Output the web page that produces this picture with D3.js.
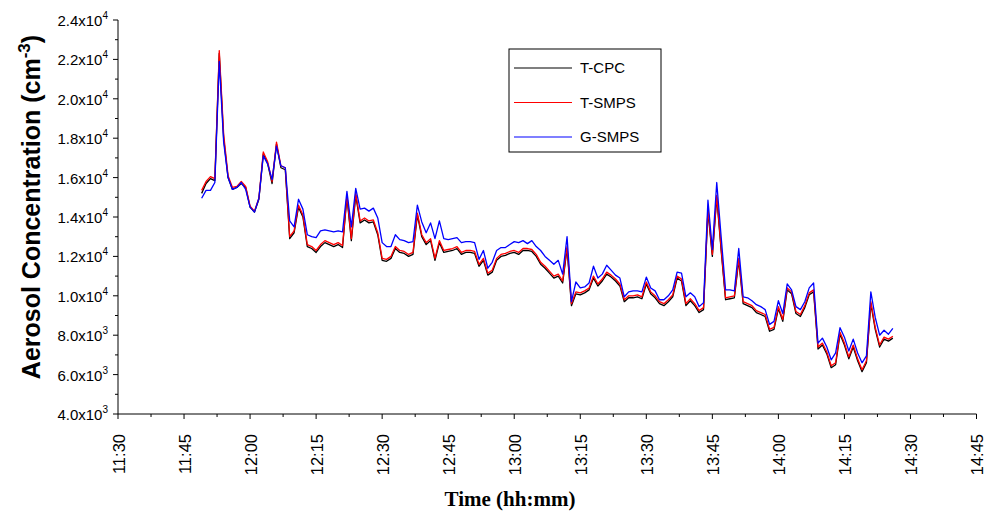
<!DOCTYPE html>
<html>
<head>
<meta charset="utf-8">
<script src="https://cdn.jsdelivr.net/npm/d3@7"></script>
<style>
body { margin: 0; background: #fff; }
svg { display: block; font-family: Arial, "Liberation Sans", sans-serif; }
</style>
</head>
<body>
<div id="chart"></div>
<script>
// one sample per minute, first sample at 11:49
var startTime = "11:49";

var tCPC = [15200, 15700, 15950, 15850, 22300, 18000, 16000, 15400, 15500, 15700,
  15500, 14500, 14250, 14900, 17200, 16700, 15700, 17700, 16500, 16400,
  12900, 13200, 14500, 14000, 12500, 12400, 12200, 12500, 12700, 12600,
  12500, 12600, 12450, 15000, 12800, 15100, 13700, 13850, 13700, 13750,
  13100, 11800, 11750, 11900, 12400, 12200, 12150, 12000, 12100, 14100,
  13000, 12600, 12800, 11800, 12700, 12200, 12250, 12300, 12400, 12100,
  12200, 12200, 12150, 11500, 11800, 11050, 11200, 11800, 12000, 12050,
  12150, 12200, 12100, 12300, 12300, 12250, 12000, 11600, 11400, 11150,
  10900, 11000, 10650, 12400, 9500, 10100, 10050, 10150, 10300, 10900,
  10500, 10750, 11100, 10950, 10750, 10500, 9700, 9900, 9900, 9950,
  9850, 10600, 10100, 9900, 9600, 9500, 9700, 9950, 10900, 10750,
  9500, 9750, 9500, 9150, 9300, 14300, 12000, 15000, 12300, 9800,
  9850, 9900, 11800, 9600, 9500, 9400, 9150, 9050, 8950, 8200,
  8300, 9350, 8700, 10300, 10100, 9100, 8950, 9400, 10050, 10200,
  7300, 7500, 7050, 6350, 6500, 8050, 7500, 6800, 7400, 6700,
  6150, 6600, 9600, 8300, 7400, 7800, 7700, 7850];

var tSMPS = [15350, 15800, 16050, 15950, 22450, 18200, 16100, 15500, 15550, 15800,
  15550, 14550, 14300, 14950, 17300, 16800, 15800, 17800, 16600, 16500,
  13000, 13300, 14600, 14100, 12600, 12500, 12300, 12600, 12800, 12700,
  12600, 12700, 12550, 15100, 12900, 15200, 13800, 13950, 13800, 13850,
  13200, 11900, 11850, 12000, 12500, 12300, 12250, 12100, 12200, 14200,
  13100, 12700, 12900, 11900, 12800, 12300, 12350, 12400, 12500, 12200,
  12300, 12300, 12250, 11600, 11900, 11150, 11300, 11900, 12100, 12150,
  12250, 12300, 12200, 12400, 12400, 12350, 12100, 11700, 11500, 11250,
  11000, 11100, 10750, 12500, 9600, 10200, 10150, 10250, 10400, 11000,
  10600, 10850, 11200, 11050, 10850, 10600, 9800, 10000, 10000, 10050,
  9950, 10700, 10200, 10000, 9700, 9600, 9800, 10050, 11000, 10850,
  9600, 9850, 9600, 9250, 9400, 14400, 12100, 15100, 12400, 9900,
  9950, 10000, 11900, 9700, 9600, 9500, 9250, 9150, 9050, 8300,
  8400, 9450, 8800, 10400, 10200, 9200, 9050, 9500, 10150, 10300,
  7400, 7600, 7150, 6450, 6600, 8150, 7600, 6900, 7500, 6800,
  6250, 6700, 9700, 8400, 7500, 7900, 7800, 7950];

var gSMPS = [14950, 15350, 15350, 15750, 21900, 17800, 16000, 15400, 15500, 15750,
  15400, 14500, 14250, 14950, 17100, 16700, 15900, 17600, 16600, 16500,
  13800, 13500, 14900, 14400, 13100, 13000, 12950, 13300, 13350, 13300,
  13250, 13300, 13250, 15300, 13500, 15450, 14400, 14450, 14300, 14450,
  13950, 12700, 12500, 12500, 13100, 12850, 12800, 12700, 12750, 14600,
  13750, 13200, 13700, 12900, 13800, 12900, 12850, 12900, 12950, 12700,
  12750, 12750, 12700, 11850, 12300, 11400, 11700, 12300, 12450, 12450,
  12600, 12750, 12700, 12800, 12650, 12800, 12500, 12300, 12000, 11800,
  11600, 11800, 11100, 13000, 9700, 10700, 10400, 10450, 10650, 11500,
  10900, 11100, 11550, 11300, 11050, 10900, 9950, 10200, 10250, 10250,
  10200, 10950, 10400, 10250, 9800, 9800, 10000, 10300, 11200, 11150,
  9950, 10150, 9950, 9450, 9650, 14850, 12350, 15750, 13000, 10300,
  10300, 10250, 12400, 9950, 9900, 9750, 9550, 9450, 9300, 8550,
  8700, 9750, 9100, 10600, 10300, 9450, 9300, 9700, 10400, 10650,
  7600, 7850, 7400, 6750, 7100, 8380, 7900, 7200, 7800, 7100,
  6600, 6950, 10200, 8900, 8000, 8250, 8050, 8350];

var seriesNames = ["T-CPC", "T-SMPS", "G-SMPS"];
var seriesColors = ["#000000", "#ff0000", "#0000ff"];

var yMin = 4000, yMax = 24000, yStep = 2000;
var xFirst = "11:30", xLast = "14:45";

var parseHM = d3.timeParse("%H:%M");

var svg = d3.select("#chart").append("svg").attr("width", 985).attr("height", 514),
    margin = {top: 20, right: 8.5, bottom: 100, left: 118},
    width = +svg.attr("width") - margin.left - margin.right,
    height = +svg.attr("height") - margin.top - margin.bottom,
    g = svg.append("g").attr("transform", "translate(" + margin.left + "," + margin.top + ")");

var x = d3.scaleTime()
    .domain([parseHM(xFirst), parseHM(xLast)])
    .range([0, width]);
var y = d3.scaleLinear()
    .domain([yMin, yMax])
    .range([height, 0]);

var t0 = parseHM(startTime);
function timeAt(i) { return d3.timeMinute.offset(t0, i); }

// y axis: major ticks every 2000, minor ticks in between
var yMajor = d3.range(yMin, yMax + 1, yStep);
var yMinor = d3.range(yMin + yStep / 2, yMax, yStep);

g.append("line").attr("x1", 0).attr("x2", 0).attr("y1", 0).attr("y2", height)
    .attr("stroke", "#000").attr("stroke-width", 1);
g.selectAll(".ymaj").data(yMajor).enter().append("line")
    .attr("x1", -5).attr("x2", 0)
    .attr("y1", function(d) { return y(d); }).attr("y2", function(d) { return y(d); })
    .attr("stroke", "#000");
g.selectAll(".ymin").data(yMinor).enter().append("line")
    .attr("x1", -3).attr("x2", 0)
    .attr("y1", function(d) { return y(d); }).attr("y2", function(d) { return y(d); })
    .attr("stroke", "#000");

var ylab = g.selectAll(".ylab").data(yMajor).enter().append("text")
    .attr("x", -10)
    .attr("y", function(d) { return y(d) + 6; })
    .attr("text-anchor", "end")
    .style("font-size", "15px")
    .attr("fill", "#000");
ylab.append("tspan").text(function(d) {
    var e = Math.floor(Math.log10(d));
    return (d / Math.pow(10, e)).toFixed(1) + "x10";
});
ylab.append("tspan").attr("dy", -7).style("font-size", "10px").text(function(d) {
    return Math.floor(Math.log10(d));
});

// x axis: ticks every 15 min, minor ticks every 7.5 min
var xMajor = x.ticks(d3.timeMinute.every(15));
var xMinor = xMajor.slice(0, -1).map(function(d) { return new Date(+d + 7.5 * 60000); });

g.append("line").attr("x1", 0).attr("x2", width).attr("y1", height).attr("y2", height)
    .attr("stroke", "#000").attr("stroke-width", 1);
g.selectAll(".xmaj").data(xMajor).enter().append("line")
    .attr("x1", function(d) { return x(d); }).attr("x2", function(d) { return x(d); })
    .attr("y1", height).attr("y2", height + 5)
    .attr("stroke", "#000");
g.selectAll(".xmin").data(xMinor).enter().append("line")
    .attr("x1", function(d) { return x(d); }).attr("x2", function(d) { return x(d); })
    .attr("y1", height).attr("y2", height + 3)
    .attr("stroke", "#000");

var fmt = d3.timeFormat("%H:%M");
g.selectAll(".xlab").data(xMajor).enter().append("text")
    .attr("transform", function(d) { return "translate(" + (x(d) + 1) + "," + (height + 20) + ") rotate(-90)"; })
    .attr("dy", "0.36em")
    .attr("text-anchor", "end")
    .style("font-size", "16.5px")
    .attr("fill", "#000")
    .text(fmt);

// axis titles
svg.append("text")
    .attr("x", 510).attr("y", 506)
    .attr("text-anchor", "middle")
    .style("font-family", "'Liberation Serif', 'Times New Roman', serif")
    .style("font-weight", "bold")
    .style("font-size", "21px")
    .text("Time (hh:mm)");

var ytitle = svg.append("text")
    .attr("transform", "translate(40,207) rotate(-90)")
    .attr("text-anchor", "middle")
    .style("font-weight", "bold")
    .style("font-size", "25px");
ytitle.append("tspan").text("Aerosol Concentration (cm");
ytitle.append("tspan").attr("dy", -10).style("font-size", "17px").text("-3");
ytitle.append("tspan").attr("dy", 10).text(")");

// series, drawn black, red, blue so blue ends on top
var line = d3.line()
    .x(function(d, i) { return x(timeAt(i)); })
    .y(function(d) { return y(d); });

[tCPC, tSMPS, gSMPS].forEach(function(s, k) {
    g.append("path")
        .datum(s)
        .attr("fill", "none")
        .attr("stroke", seriesColors[k])
        .attr("stroke-width", 1.3)
        .attr("stroke-linejoin", "round")
        .attr("d", line);
});

// legend
var lg = svg.append("g").attr("transform", "translate(509,49)");
lg.append("rect").attr("width", 152).attr("height", 103)
    .attr("fill", "#fff").attr("stroke", "#000").attr("stroke-width", 1);
seriesNames.forEach(function(name, k) {
    var ly = 19 + k * 34.5;
    lg.append("line").attr("x1", 5).attr("x2", 63).attr("y1", ly).attr("y2", ly)
        .attr("stroke", seriesColors[k]).attr("stroke-width", 1.2);
    lg.append("text").attr("x", 71).attr("y", ly).attr("dy", "0.36em")
        .style("font-size", "15px").text(name);
});
</script>
</body>
</html>
